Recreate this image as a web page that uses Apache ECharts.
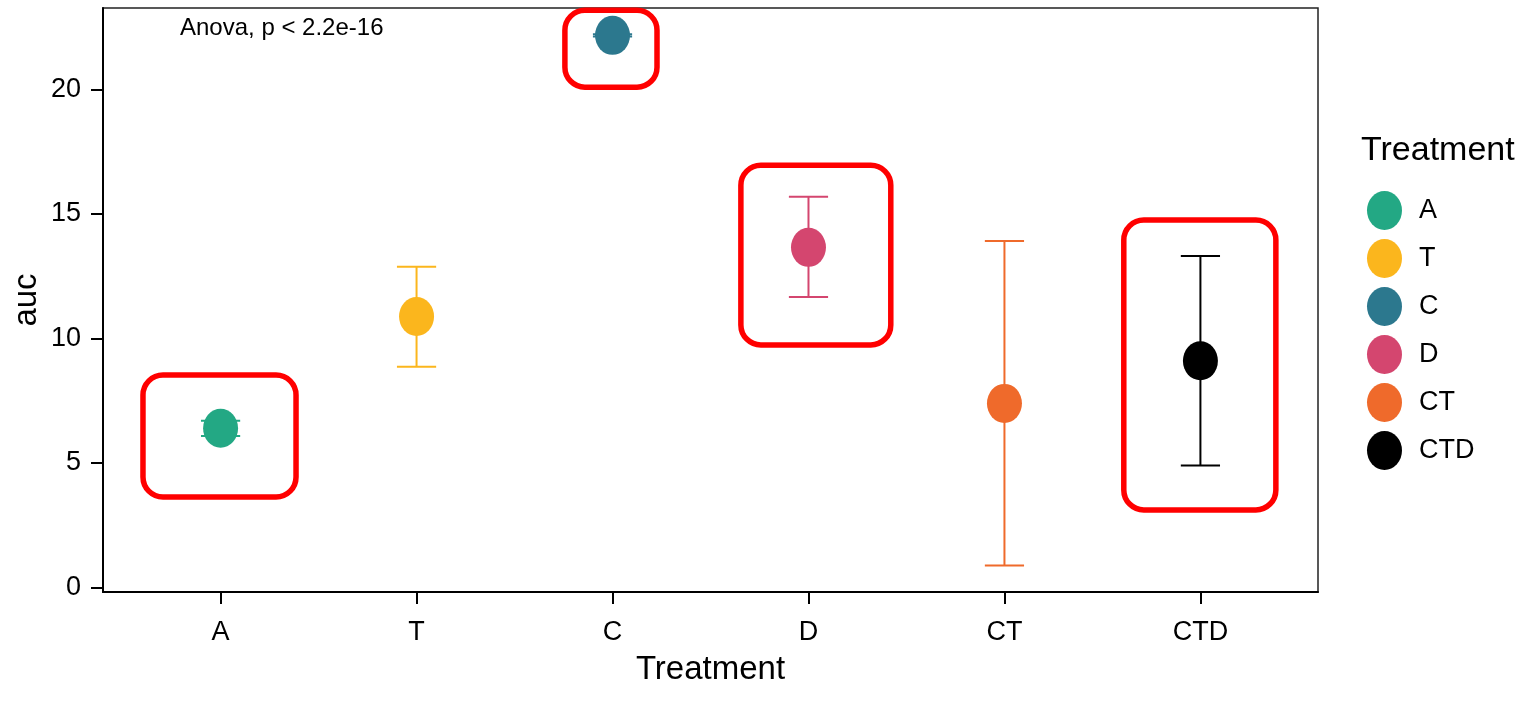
<!DOCTYPE html>
<html>
<head>
<meta charset="utf-8">
<script src="https://cdn.jsdelivr.net/npm/echarts@6/dist/echarts.min.js"></script>
<style>
html,body{margin:0;padding:0;background:#fff;}
#chart{width:1518px;height:701px;}
</style>
</head>
<body>
<div id="chart"></div>
<script>
// ---- data ----
const categories = ['A', 'T', 'C', 'D', 'CT', 'CTD'];
const means = [6.39, 10.88, 22.18, 13.66, 7.39, 9.10];
const lowerErr = [6.08, 8.86, 22.13, 11.67, 0.87, 4.89];
const upperErr = [6.69, 12.88, 22.23, 15.69, 13.92, 13.31];
const colors = ['#23A884', '#FBB61D', '#2C788E', '#D4466F', '#EF6A2B', '#000000'];
const yTicks = [0, 5, 10, 15, 20];
const annotation = 'Anova, p < 2.2e-16';
// highlighted groups (red rounded boxes), extents in data units
const highlighted = ['A', 'C', 'D', 'CTD'];
const highlightLeft = [0.604, 2.757, 3.655, 5.609];
const highlightRight = [1.385, 3.227, 4.420, 6.385];
const highlightLow = [3.63, 20.10, 9.74, 3.11];
const highlightHigh = [8.53, 23.19, 16.96, 14.76];

const FONT = '"Liberation Sans", Arial, sans-serif';
const ellipse = 'path://M0,1A1,1 0 1 1 2,1A1,1 0 1 1 0,1Z';
const catPos = categories.map((c, i) => i + 1);

const pointSeries = categories.map((c, i) => ({
  name: c,
  type: 'scatter',
  symbol: ellipse,
  symbolSize: [35, 39],
  itemStyle: { color: colors[i], opacity: 1 },
  z: 5,
  data: [[catPos[i], means[i]]]
}));

const errorSeries = {
  name: 'errorbars',
  type: 'custom',
  z: 3,
  clip: false,
  data: categories.map((c, i) => [catPos[i], lowerErr[i], upperErr[i]]),
  renderItem: function (params, api) {
    const x = api.value(0);
    const lo = api.coord([x, api.value(1)]);
    const hi = api.coord([x, api.value(2)]);
    const hw = api.size([0.1, 0])[0];
    const style = { stroke: colors[params.dataIndex], lineWidth: 2, fill: null };
    return {
      type: 'group',
      children: [
        { type: 'line', shape: { x1: lo[0], y1: lo[1], x2: hi[0], y2: hi[1] }, style },
        { type: 'line', shape: { x1: hi[0] - hw, y1: hi[1], x2: hi[0] + hw, y2: hi[1] }, style },
        { type: 'line', shape: { x1: lo[0] - hw, y1: lo[1], x2: lo[0] + hw, y2: lo[1] }, style }
      ]
    };
  }
};

const boxSeries = {
  name: 'highlight',
  type: 'custom',
  z: 8,
  clip: false,
  silent: true,
  data: highlighted.map((c, i) => [highlightLeft[i], highlightRight[i], highlightLow[i], highlightHigh[i]]),
  renderItem: function (params, api) {
    const p0 = api.coord([api.value(0), api.value(3)]);
    const p1 = api.coord([api.value(1), api.value(2)]);
    return {
      type: 'rect',
      shape: { x: p0[0], y: p0[1], width: p1[0] - p0[0], height: p1[1] - p0[1], r: 20 },
      style: { fill: null, stroke: '#FF0000', lineWidth: 5.5 }
    };
  }
};

const chart = echarts.init(document.getElementById('chart'));
chart.setOption({
  animation: false,
  backgroundColor: '#fff',
  textStyle: { fontFamily: FONT },
  grid: { left: 103, right: 200, top: 8, bottom: 109, show: true, borderColor: '#222', borderWidth: 1.5, containLabel: false },
  title: {
    text: 'Treatment', left: 1356, top: 129,
    textStyle: { fontFamily: FONT, fontSize: 34, fontWeight: 'normal', color: '#000' }
  },
  legend: {
    data: categories,
    orient: 'vertical',
    left: 1362, top: 186,
    icon: ellipse,
    symbolKeepAspect: false,
    itemWidth: 35, itemHeight: 39, itemGap: 9,
    textStyle: { fontFamily: FONT, fontSize: 27, color: '#000', padding: [0, 0, 0, 12] }
  },
  graphic: [{
    type: 'text', left: 180, top: 16,
    style: { text: annotation, font: '24px ' + FONT, fill: '#000' }
  }],
  xAxis: {
    type: 'value', min: 0.4, max: 6.6,
    name: 'Treatment', nameLocation: 'middle', nameGap: 61, nameMoveOverlap: false,
    nameTextStyle: { fontFamily: FONT, fontSize: 33, color: '#000' },
    axisLine: { show: true, onZero: false, lineStyle: { color: '#000', width: 2 } },
    axisTick: { show: true, customValues: catPos, length: 12, lineStyle: { color: '#000', width: 2 } },
    axisLabel: { customValues: catPos, formatter: v => categories[Math.round(v) - 1], fontSize: 27, color: '#000', margin: 27, fontFamily: FONT },
    splitLine: { show: false }
  },
  yAxis: {
    type: 'value', min: -0.19, max: 23.28,
    name: 'auc', nameLocation: 'middle', nameGap: 60, nameRotate: 90, nameMoveOverlap: false,
    nameTextStyle: { fontFamily: FONT, fontSize: 33, color: '#000' },
    axisLine: { show: true, onZero: false, lineStyle: { color: '#000', width: 2 } },
    axisTick: { show: true, customValues: yTicks, length: 12, lineStyle: { color: '#000', width: 2 } },
    axisLabel: { customValues: yTicks, fontSize: 27, color: '#000', margin: 22, fontFamily: FONT },
    splitLine: { show: false }
  },
  series: [errorSeries].concat(pointSeries).concat([boxSeries])
});
</script>
</body>
</html>
